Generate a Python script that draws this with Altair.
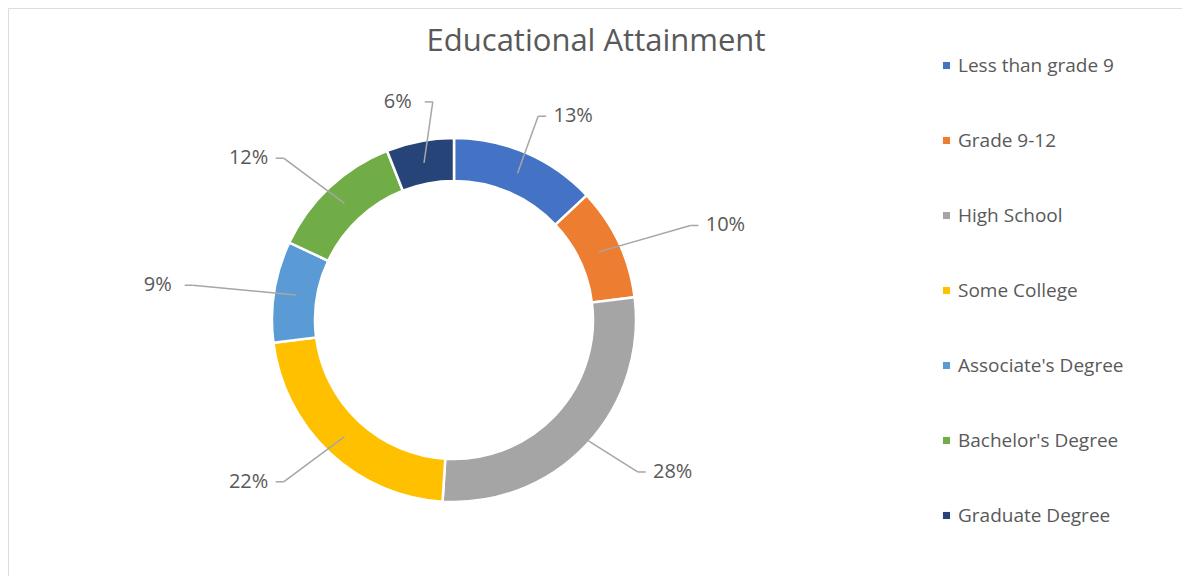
import altair as alt
import pandas as pd

# ---- data ----
categories = ["Less than grade 9", "Grade 9-12", "High School", "Some College",
              "Associate's Degree", "Bachelor's Degree", "Graduate Degree"]
values = [13, 10, 28, 22, 9, 12, 6]
labels = ["13%", "10%", "28%", "22%", "9%", "12%", "6%"]
colors = ["#4472C4", "#ED7D31", "#A5A5A5", "#FFC000", "#5B9BD5", "#70AD47", "#264478"]
title_text = "Educational Attainment"

df = pd.DataFrame({"category": categories, "value": values, "label": labels,
                   "idx": list(range(len(categories)))})

# ---- layout (chart pixel space) ----
W, H = 1174, 568
CX, CY = 446, 312
R_IN, R_OUT = 139, 182
R_MID = 160
RX, RY = 300, 222
FONT = "Open Sans"
TXT = "#595959"
LINE = "#A6A6A6"

base = alt.Chart(df)

arcs = base.mark_arc(innerRadius=R_IN, outerRadius=R_OUT, stroke="white",
                     strokeWidth=2.5).encode(
    theta=alt.Theta("value:Q", stack=True),
    order=alt.Order("idx:Q"),
    color=alt.Color("category:N", sort=categories,
                    scale=alt.Scale(domain=categories, range=colors),
                    legend=alt.Legend(title=None, orient="none", legendX=929, legendY=48,
                                      symbolType="square", symbolSize=50,
                                      symbolStrokeWidth=0, labelFontSize=19,
                                      labelFont=FONT, labelColor=TXT, labelOffset=2,
                                      rowPadding=55, padding=0, labelLimit=300)),
    x=alt.value(CX), y=alt.value(CY),
)

geo = (base
       .transform_window(cum="sum(value)", sort=[alt.SortField("idx")], frame=[None, 0])
       .transform_joinaggregate(total="sum(value)")
       .transform_calculate(a="2*PI*(datum.cum - datum.value/2)/datum.total")
       .transform_calculate(s="sin(datum.a)")
       .transform_calculate(c="cos(datum.a)")
       .transform_calculate(side="datum.s >= 0 ? 1 : -1")
       .transform_calculate(sx=f"{CX} + {R_MID}*datum.s")
       .transform_calculate(sy=f"{CY} - {R_MID}*datum.c")
       .transform_calculate(lx=f"{CX} + {RX}*datum.s")
       .transform_calculate(ly=f"{CY} - {RY}*datum.c")
       .transform_calculate(ex="datum.lx - datum.side*27")
       .transform_calculate(mx="datum.ex - datum.side*8"))

seg1 = geo.mark_rule(color=LINE, strokeWidth=1.5).encode(
    x=alt.X("sx:Q", scale=None, axis=None),
    y=alt.Y("sy:Q", scale=None, axis=None),
    x2="mx:Q", y2="ly:Q",
)
seg2 = geo.mark_rule(color=LINE, strokeWidth=1.5).encode(
    x=alt.X("mx:Q", scale=None, axis=None),
    y=alt.Y("ly:Q", scale=None, axis=None),
    x2="ex:Q", y2="ly:Q",
)
text = geo.mark_text(fontSize=20, font=FONT, color=TXT, baseline="middle").encode(
    x=alt.X("lx:Q", scale=None, axis=None),
    y=alt.Y("ly:Q", scale=None, axis=None),
    text="label:N",
)

title = alt.Chart(pd.DataFrame({"t": [title_text]})).mark_text(
    fontSize=31, font=FONT, color=TXT, baseline="middle").encode(
    x=alt.value(588), y=alt.value(34), text="t:N")

chart = alt.layer(arcs, seg1, seg2, text, title).properties(
    width=W, height=H, padding=0, autosize=alt.AutoSizeParams(type="none")
).configure_view(stroke="#D9D9D9", strokeWidth=1.5).configure(background="white")

chart.save("out.html", embed_options={"renderer": "svg", "actions": False})
